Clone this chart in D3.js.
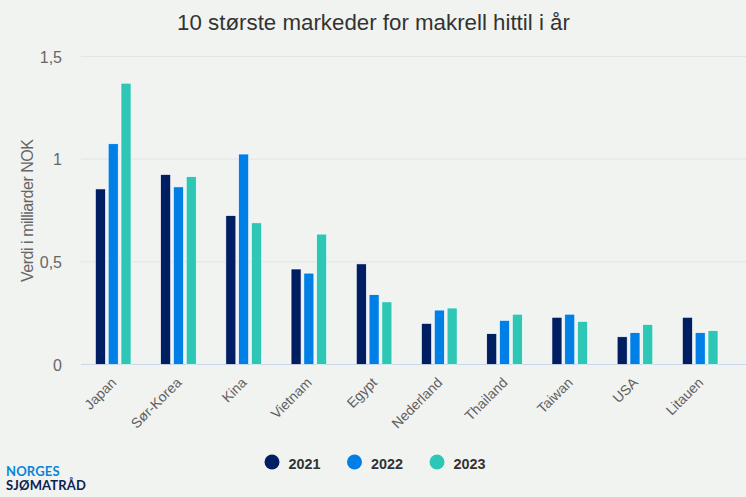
<!DOCTYPE html>
<html><head><meta charset="utf-8">
<script src="https://cdn.jsdelivr.net/npm/d3@7"></script>
<style>html,body{margin:0;padding:0;background:#f1f3f1}svg{display:block}text{font-family:"Liberation Sans",Arial,sans-serif}text.logo{font-family:Lato,sans-serif}</style>
</head><body><div id="c"></div>
<script>
const categories=["Japan","Sør-Korea","Kina","Vietnam","Egypt","Nederland","Thailand","Taiwan","USA","Litauen"];
const years=["2021","2022","2023"];
const v2021=[0.855,0.925,0.725,0.465,0.49,0.2,0.15,0.23,0.135,0.23];
const v2022=[1.075,0.865,1.025,0.445,0.34,0.265,0.215,0.245,0.155,0.155];
const v2023=[1.37,0.915,0.69,0.635,0.305,0.275,0.245,0.21,0.195,0.165];
const colors=["#001e62","#0080e6","#2ec7b6"];
const yTicks=[0,0.5,1,1.5];
const tickLabels=["0","0,5","1","1,5"];
const series=[v2021,v2022,v2023];
const W=746,H=497;
const svg=d3.select("#c").append("svg").attr("width",W).attr("height",H);
svg.append("rect").attr("width",W).attr("height",H).attr("fill","#f1f3f1");
const y=d3.scaleLinear().domain([0,1.5]).range([364.5,56.5]);
const x=d3.scaleBand().domain(categories).range([80.6,732.8]);
const sub=d3.scaleBand().domain(years).range([x.bandwidth()/2-17.8,x.bandwidth()/2+17.8]).paddingInner(0.219);

yTicks.forEach((t,i)=>{
  svg.append("line").attr("x1",81).attr("x2",746).attr("y1",y(t)).attr("y2",y(t))
    .attr("stroke",t===0?"#ccd6eb":"#e2e5e3").attr("stroke-width",1);
  svg.append("text").attr("x",62).attr("y",y(t)+6).attr("text-anchor","end")
    .attr("font-size",16).attr("fill","#666").text(tickLabels[i]);
});
series.forEach((vals,s)=>{
  svg.append("g").selectAll("rect").data(vals).join("rect")
    .attr("x",(d,i)=>x(categories[i])+sub(years[s]))
    .attr("width",sub.bandwidth())
    .attr("y",d=>y(d)).attr("height",d=>y(0)-y(d))
    .attr("fill",colors[s]).attr("stroke","#fff").attr("stroke-width",0.6);
});
categories.forEach(c=>{
  const cx=x(c)+x.bandwidth()/2+0.5, cy=380;
  svg.append("text").attr("transform",`translate(${cx},${cy}) rotate(-45)`)
    .attr("text-anchor","end").attr("dy","0.35em").attr("font-size",14).attr("fill","#606060").text(c);
});
svg.append("text").attr("transform","translate(32.5,210.5) rotate(-90)").attr("text-anchor","middle")
  .attr("font-size",16).attr("textLength",143).attr("fill","#666").text("Verdi i milliarder NOK");
svg.append("text").attr("x",373.5).attr("y",30).attr("text-anchor","middle")
  .attr("font-size",22.3).attr("fill","#333").text("10 største markeder for makrell hittil i år");
const legendX=[272,354.5,437];
years.forEach((yr,i)=>{
  svg.append("circle").attr("cx",legendX[i]).attr("cy",462).attr("r",7.5).attr("fill",colors[i]);
  svg.append("text").attr("x",legendX[i]+16.5).attr("y",468.5).attr("font-size",14.4).attr("font-weight","bold").attr("fill","#333").text(yr);
});
svg.append("text").attr("class","logo").attr("x",6).attr("y",475.5).attr("font-size",13).attr("font-weight","bold").attr("letter-spacing",0.15).attr("fill","#0a84d6").text("NORGES");
svg.append("text").attr("class","logo").attr("x",6).attr("y",490).attr("font-size",13).attr("font-weight","bold").attr("letter-spacing",0.15).attr("fill","#0d2150").text("SJØMATRÅD");
</script></body></html>
